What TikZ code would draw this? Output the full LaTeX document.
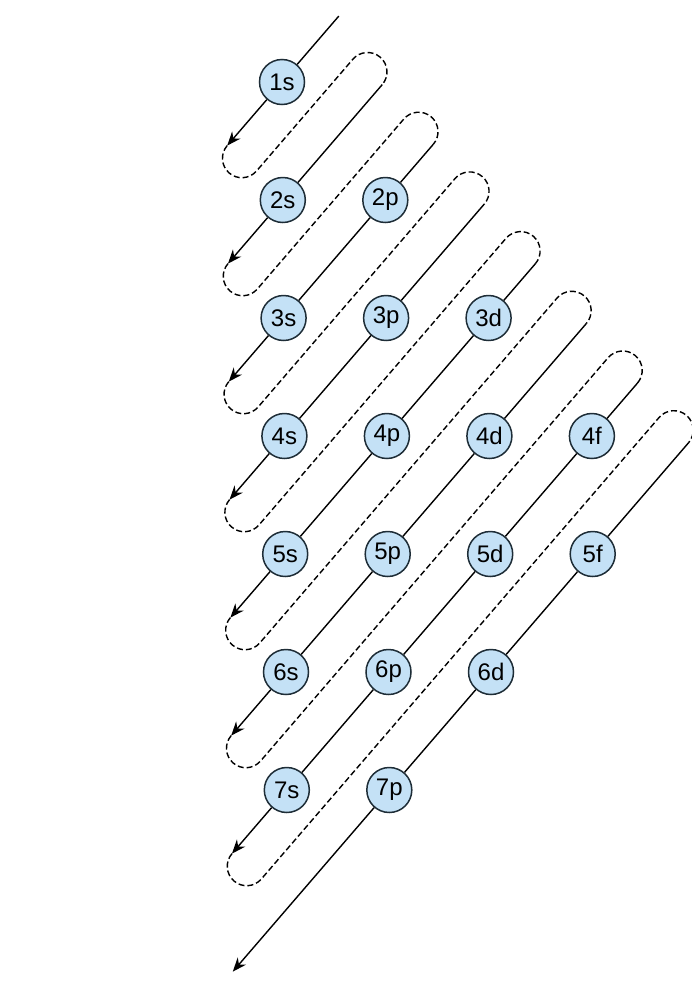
\documentclass[tikz,border=0pt]{standalone}
\usepackage{fontspec}
\setmainfont{Liberation Sans}
\usetikzlibrary{calc,arrows.meta}
\definecolor{orbfill}{RGB}{196,225,246}
\definecolor{orbline}{RGB}{30,45,55}
\begin{document}
\begin{tikzpicture}[x=1pt,y=1pt,
  orb/.style={circle, draw=orbline, line width=1.5pt, fill=orbfill,
    minimum size=45pt, inner sep=0pt, font=\fontsize{24}{24}\selectfont},
  solidln/.style={line width=1.4pt, -{Stealth[length=14pt,width=11pt]}},
  dashln/.style={line width=1.4pt, dash pattern=on 6pt off 3pt}]
\useasboundingbox (0,0) rectangle (692,-983);
% frame
\coordinate (P0) at (282,-82);
\coordinate (R) at (0.8,-118);
\coordinate (U) at (0.6528,0.7575);
\coordinate (N) at (0.7575,-0.6528);
% bottom arrow tips
\foreach \k in {1,...,8}{
  \pgfmathsetmacro{\km}{\k-1}
  \coordinate (S\k) at ($(P0)+{\km}*(R)$);
  \coordinate (B\k) at ($(S\k)-84*(U)$);
}
% top loops
\foreach \k in {1,...,7}{
  \pgfmathsetmacro{\at}{63.5-11.9*(\k-1)}
  \pgfmathsetmacro{\bt}{77.64*(\k-1)+58.23}
  \pgfmathtruncatemacro{\kn}{\k+1}
  \coordinate (C\k) at ($(P0)+{\at}*(U)+{\bt}*(N)$);
  \coordinate (E\k) at ($(C\k)-19.41*(N)$);
  \coordinate (T\kn) at ($(C\k)+19.41*(N)$);
}
\coordinate (T1) at ($(P0)+87*(U)$);
% dashed returns
\foreach \k in {1,...,7}{
  \draw[dashln] (B\k) arc[start angle=139.24, end angle=319.24, radius=19.41]
    -- (E\k) arc[start angle=139.24, end angle=-40.76, radius=19.41];
}
% nodes
\node[orb] (o1s) at (282,-82) {1s};
\node[orb] (o2s) at (282.8,-200) {2s};
\node[orb] (o2p) at (385.3,-200) {2p};
\node[orb] (o3s) at (283.6,-318) {3s};
\node[orb] (o3p) at (386.1,-318) {3p};
\node[orb] (o3d) at (488.6,-318) {3d};
\node[orb] (o4s) at (284.4,-436) {4s};
\node[orb] (o4p) at (386.9,-436) {4p};
\node[orb] (o4d) at (489.4,-436) {4d};
\node[orb] (o4f) at (591.9,-436) {4f};
\node[orb] (o5s) at (285.2,-554) {5s};
\node[orb] (o5p) at (387.7,-554) {5p};
\node[orb] (o5d) at (490.2,-554) {5d};
\node[orb] (o5f) at (592.7,-554) {5f};
\node[orb] (o6s) at (286,-672) {6s};
\node[orb] (o6p) at (388.5,-672) {6p};
\node[orb] (o6d) at (491,-672) {6d};
\node[orb] (o7s) at (286.8,-790) {7s};
\node[orb] (o7p) at (389.3,-790) {7p};
% solid diagonals
\draw[solidln] (T1) -- (o1s) -- (B1);
\draw[solidln] (T2) -- (o2s) -- (B2);
\draw[solidln] (T3) -- (o2p) -- (o3s) -- (B3);
\draw[solidln] (T4) -- (o3p) -- (o4s) -- (B4);
\draw[solidln] (T5) -- (o3d) -- (o4p) -- (o5s) -- (B5);
\draw[solidln] (T6) -- (o4d) -- (o5p) -- (o6s) -- (B6);
\draw[solidln] (T7) -- (o4f) -- (o5d) -- (o6p) -- (o7s) -- (B7);
\draw[solidln] (T8) -- (o5f) -- (o6d) -- (o7p) -- (B8);
\end{tikzpicture}
\end{document}
